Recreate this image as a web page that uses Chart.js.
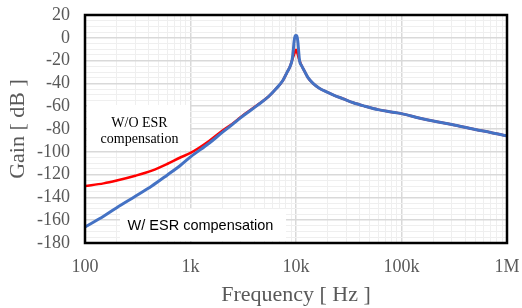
<!DOCTYPE html>
<html><head><meta charset="utf-8">
<script src="https://cdn.jsdelivr.net/npm/chart.js@4/dist/chart.umd.min.js"></script>
<style>html,body{margin:0;padding:0;background:#fff}#wrap{width:522px;height:308px;position:relative}</style>
</head><body><div id="wrap"><canvas id="c" width="522" height="308"></canvas></div>
<script>
// ---- data ----
const freqWO = [100,150,200,300,430,600,800,1000,1500,2000,2500,3000,4300,5500,6500,7500,8200,8800,9300,9650,10000,10350,10700,11300,12000,13000,14500,16500,19500,23000,28000,35000,45000,60000,80000,100000,150000,200000,300000,500000,700000,1000000];
const gainWO = [-130,-127.7,-125.2,-121,-116.5,-110.7,-105,-101,-90.5,-81.5,-75.3,-69.5,-59,-51.5,-44.5,-37.5,-30.5,-25,-18,-14,-10.5,-14,-19,-24.5,-29,-35,-40,-44,-47.5,-50.5,-53.5,-57,-60,-63,-65,-66.5,-70.5,-73,-76,-80.5,-83,-86];
const freqW = [100,150,200,300,430,600,800,1000,1500,2000,2500,3000,4300,5500,6500,7500,8200,8800,9200,9400,9600,9800,10000,10200,10400,10600,10800,11300,12000,13000,14500,16500,19500,23000,28000,35000,45000,60000,80000,100000,150000,200000,300000,500000,700000,1000000];
const gainW = [-166,-156.5,-149,-139,-130,-120.5,-112,-104.5,-92.5,-83,-76,-70,-59.3,-51.5,-44.5,-37.5,-30.5,-25,-19,-12,-3,1.5,2,1.5,-3,-12,-20,-24.5,-29,-35,-40,-44,-47.5,-50.5,-53.5,-57,-60,-63,-65,-66.5,-70.5,-73,-76,-80.5,-83,-86];
const xTickValues = [100,1000,10000,100000,1000000];
const xTickLabels = ['100','1k','10k','100k','1M'];
const yMin = -180, yMax = 20, yMajorStep = 20, yMinorStep = 5;
const seriesNames = ['W/O ESR compensation','W/ ESR compensation'];

// ---- build ----
const toPts = (f, g) => f.map((v, i) => ({x: v, y: g[i]}));
const xGrid = [];
for (let d = 100; d < 1000000; d *= 10) for (let k = 1; k <= 9; k++) xGrid.push(d * k);
xGrid.push(1000000);
const yGrid = [];
for (let v = yMin; v <= yMax; v += yMinorStep) yGrid.push(v);
const isXMajor = v => xTickValues.indexOf(v) >= 0;
const isYMajor = v => v % yMajorStep === 0;

const notes = [
  {lines: ['W/O ESR', 'compensation'], font: '14px "Liberation Serif"', box: [87, 105, 190, 150], x: 139.5, ys: [123, 139]},
  {lines: ['W/ ESR compensation'], font: '14.5px "Liberation Sans"', box: [120, 209, 286, 241], x: 200.5, ys: [226]}
];

const notePlugin = {
  id: 'notes',
  beforeDatasetsDraw(chart) {
    const ctx = chart.ctx;
    ctx.save();
    notes.forEach(n => {
      ctx.fillStyle = '#ffffff';
      ctx.fillRect(n.box[0], n.box[1], n.box[2] - n.box[0], n.box[3] - n.box[1]);
      ctx.fillStyle = '#000000';
      ctx.font = n.font;
      ctx.textAlign = 'center';
      ctx.textBaseline = 'middle';
      n.lines.forEach((t, i) => ctx.fillText(t, n.x, n.ys[i]));
    });
    ctx.restore();
  },
  afterDatasetsDraw(chart) {
    const a = chart.chartArea, ctx = chart.ctx;
    ctx.save();
    ctx.strokeStyle = '#000000';
    ctx.lineWidth = 2.5;
    ctx.strokeRect(a.left, a.top, a.right - a.left, a.bottom - a.top);
    ctx.restore();
  }
};

new Chart(document.getElementById('c'), {
  type: 'line',
  data: {
    datasets: [
      {label: seriesNames[0], data: toPts(freqWO, gainWO), borderColor: '#ff0000', borderWidth: 2.5, pointRadius: 0, tension: 0.3, cubicInterpolationMode: 'monotone', order: 2},
      {label: seriesNames[1], data: toPts(freqW, gainW), borderColor: '#4472c4', borderWidth: 3, pointRadius: 0, tension: 0.3, cubicInterpolationMode: 'monotone', order: 1}
    ]
  },
  options: {
    responsive: false,
    animation: false,
    layout: {padding: {top: 15, right: 15, left: 0, bottom: 0}},
    plugins: {legend: {display: false}, tooltip: {enabled: false}},
    scales: {
      x: {
        type: 'logarithmic', min: 100, max: 1000000,
        afterBuildTicks: s => { s.ticks = xGrid.map(v => ({value: v})); },
        afterFit: s => { s.height = 65; s.paddingLeft = 0; s.paddingRight = 0; },
        border: {display: false},
        grid: {drawTicks: false, color: c => isXMajor(c.tick.value) ? '#d9d9d9' : '#efefef', lineWidth: c => isXMajor(c.tick.value) ? 1.5 : 1},
        ticks: {autoSkip: false, maxRotation: 0, padding: 13, color: '#595959', font: {family: 'Liberation Serif', size: 18},
          callback: v => { const i = xTickValues.indexOf(v); return i >= 0 ? xTickLabels[i] : ''; }},
        title: {display: true, text: 'Frequency [ Hz ]', color: '#595959', font: {family: 'Liberation Serif', size: 22}, padding: {top: 0, bottom: 0}}
      },
      y: {
        type: 'linear', min: yMin, max: yMax,
        afterBuildTicks: s => { s.ticks = yGrid.map(v => ({value: v})); },
        afterFit: s => { s.width = 85; s.paddingTop = 0; s.paddingBottom = 0; },
        border: {display: false},
        grid: {drawTicks: false, color: c => isYMajor(c.tick.value) ? '#d9d9d9' : '#efefef', lineWidth: c => isYMajor(c.tick.value) ? 1.5 : 1},
        ticks: {autoSkip: false, padding: 15, color: '#595959', font: {family: 'Liberation Serif', size: 18},
          callback: v => isYMajor(v) ? String(v) : ''},
        title: {display: true, text: 'Gain [ dB ]', color: '#595959', font: {family: 'Liberation Serif', size: 22}, padding: {top: 5, bottom: 0}}
      }
    }
  },
  plugins: [notePlugin]
});
</script></body></html>
